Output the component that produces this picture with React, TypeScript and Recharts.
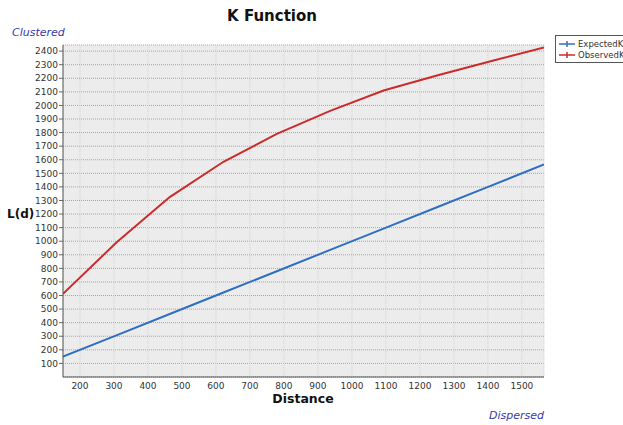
import React from "react";
import {
  LineChart, Line, XAxis, YAxis, CartesianGrid,
} from "recharts";

// distance bands (x) and the two L(d) curves
const distances = [150, 307, 464, 622, 779, 936, 1093, 1250, 1408, 1565];
const expectedK = [150, 307, 464, 622, 779, 936, 1093, 1250, 1408, 1565];
const observedK = [612, 990, 1325, 1585, 1790, 1960, 2110, 2220, 2325, 2427];

const xTicks = [200, 300, 400, 500, 600, 700, 800, 900, 1000, 1100, 1200, 1300, 1400, 1500];
const yTicks = [100, 200, 300, 400, 500, 600, 700, 800, 900, 1000, 1100, 1200,
  1300, 1400, 1500, 1600, 1700, 1800, 1900, 2000, 2100, 2200, 2300, 2400];

const seriesInfo = [
  { key: "ExpectedK", color: "#2f6fbf" },
  { key: "ObservedK", color: "#cc2b2b" },
];

const data = distances.map((d, i) => ({
  distance: d,
  ExpectedK: expectedK[i],
  ObservedK: observedK[i],
}));

const FONT = "'DejaVu Sans', Tahoma, sans-serif";
const tickStyle = { fontSize: 9, fill: "#333", fontFamily: FONT };

function LegendBox() {
  return (
    <div style={{
      position: "absolute", left: 555, top: 35, width: 80,
      border: "1px solid #555", background: "#fff", padding: "2px 4px 2px 3px",
      fontFamily: FONT, fontSize: 8.5, color: "#333",
    }}>
      {seriesInfo.map((s) => (
        <div key={s.key} style={{ display: "flex", alignItems: "center", height: 11 }}>
          <svg width={16} height={8} style={{ marginRight: 3 }}>
            <line x1={0} y1={4} x2={16} y2={4} stroke={s.color} strokeWidth={1.5} />
            <line x1={8} y1={1} x2={8} y2={7} stroke={s.color} strokeWidth={1.5} />
          </svg>
          <span>{s.key}</span>
        </div>
      ))}
    </div>
  );
}

export default function App() {
  return (
    <div style={{
      position: "absolute", left: 0, top: 0, width: 623, height: 425,
      overflow: "hidden", background: "#fff", fontFamily: FONT,
    }}>
      <LineChart
        width={623}
        height={425}
        data={data}
        margin={{ top: 45, right: 79, left: 0, bottom: 0 }}
      >
        <CartesianGrid fill="#ececec" stroke="#a5a5a5" strokeDasharray="1 1" vertical={false} />
        <CartesianGrid stroke="#d2d2d2" strokeDasharray="1 1" horizontal={false} />
        <XAxis
          dataKey="distance"
          type="number"
          domain={[150, 1565]}
          ticks={xTicks}
          interval={0}
          allowDataOverflow
          tickLine={false}
          tickSize={4}
          tickMargin={2}
          height={48}
          stroke="#555"
          tick={tickStyle}
        />
        <XAxis
          xAxisId="top"
          orientation="top"
          dataKey="distance"
          type="number"
          domain={[150, 1565]}
          height={0}
          tick={false}
          tickLine={false}
          stroke="#555"
        />
        <YAxis
          type="number"
          domain={[0, 2445]}
          ticks={yTicks}
          interval={0}
          allowDataOverflow
          tickSize={4}
          tickMargin={1}
          width={63}
          stroke="#555"
          tickLine={{ stroke: "#666" }}
          tick={tickStyle}
        />
        <YAxis
          yAxisId="right"
          orientation="right"
          domain={[0, 2445]}
          width={0}
          tick={false}
          tickLine={false}
          stroke="#555"
        />
        {seriesInfo.map((s) => (
          <Line
            key={s.key}
            type="linear"
            dataKey={s.key}
            stroke={s.color}
            strokeWidth={2}
            dot={false}
            isAnimationActive={false}
          />
        ))}
      </LineChart>

      <LegendBox />
      <div style={{
        position: "absolute", left: 0, width: 544, top: 7, textAlign: "center",
        fontWeight: "bold", fontSize: 15, color: "#111",
      }}>K Function</div>
      <div style={{
        position: "absolute", left: 12, top: 26, fontStyle: "italic",
        fontSize: 11, color: "#3a3aa8",
      }}>Clustered</div>
      <div style={{
        position: "absolute", left: 489, top: 409, fontStyle: "italic",
        fontSize: 11, color: "#3a3aa8",
      }}>Dispersed</div>
      <div style={{
        position: "absolute", left: 7, top: 207, fontWeight: "bold",
        fontSize: 12, color: "#111",
      }}>L(d)</div>
      <div style={{
        position: "absolute", left: 62, width: 482, top: 391, textAlign: "center",
        fontWeight: "bold", fontSize: 12.5, color: "#111",
      }}>Distance</div>
    </div>
  );
}
